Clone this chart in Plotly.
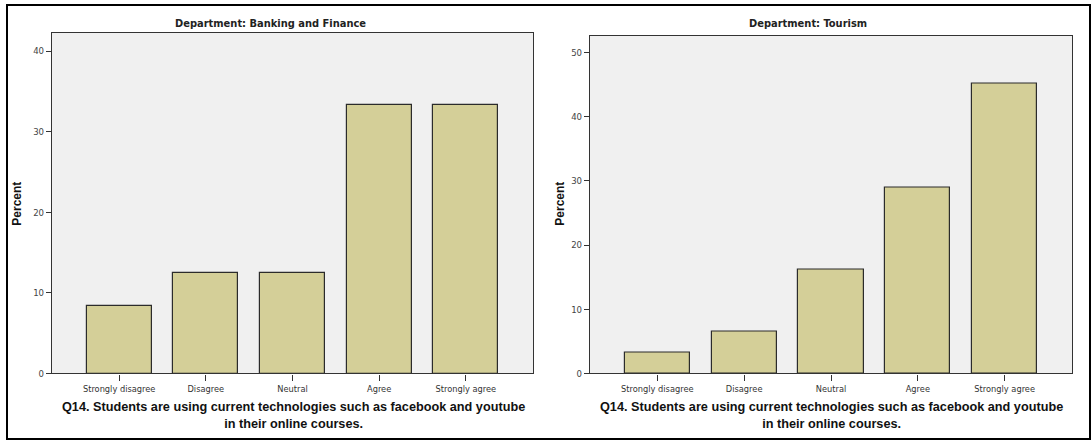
import plotly.graph_objects as go

W, H = 1092, 446

categories = ["Strongly disagree", "Disagree", "Neutral", "Agree", "Strongly agree"]
banking_values = [8.33, 12.5, 12.5, 33.33, 33.33]
tourism_values = [3.23, 6.45, 16.13, 29.03, 45.16]
banking_ticks = [0, 10, 20, 30, 40]
tourism_ticks = [0, 10, 20, 30, 40, 50]
panel_titles = ["Department: Banking and Finance", "Department: Tourism"]
x_title = "Q14. Students are using current technologies such as facebook and youtube<br>in their online courses."
y_title = "Percent"

BAR_FILL = "#d4cf98"
BAR_LINE = "#2b2b2b"
PLOT_BG = "#f0f0f0"
NARROW = "Liberation Sans Narrow, Arial Narrow, DejaVu Sans Condensed, sans-serif"
SANS = "Liberation Sans, Arial, sans-serif"


def px(x):
    return x / W


def py(y):
    return (H - y) / H


fig = go.Figure()
fig.add_trace(go.Bar(x=categories, y=banking_values, xaxis="x", yaxis="y",
                     marker=dict(color=BAR_FILL, line=dict(color=BAR_LINE, width=1.2)),
                     width=0.75, showlegend=False, hoverinfo="x+y"))
fig.add_trace(go.Bar(x=categories, y=tourism_values, xaxis="x2", yaxis="y2",
                     marker=dict(color=BAR_FILL, line=dict(color=BAR_LINE, width=1.2)),
                     width=0.75, showlegend=False, hoverinfo="x+y"))

common_x = dict(type="category", range=[-0.775, 4.775], showgrid=False, zeroline=False,
                showline=True, linecolor="#333", linewidth=1.2, mirror=True,
                ticks="outside", ticklen=6, tickcolor="#333", tickwidth=1,
                tickfont=dict(family=NARROW, size=9.2, color="#333"), fixedrange=True)
common_y = dict(showgrid=False, zeroline=False, showline=True, linecolor="#333",
                linewidth=1.2, mirror=True, ticks="outside", ticklen=5,
                tickcolor="#333", tickwidth=1,
                tickfont=dict(family=NARROW, size=9.5, color="#444"), fixedrange=True)

fig.update_layout(
    width=W, height=H,
    margin=dict(l=0, r=0, t=0, b=0),
    paper_bgcolor="white",
    plot_bgcolor=PLOT_BG,
    bargap=0,
    xaxis=dict(domain=[px(52), px(533)], anchor="y", **common_x),
    yaxis=dict(domain=[py(377.7), py(33.3)], anchor="x", range=[0, 42.26],
               tickvals=banking_ticks, **common_y),
    xaxis2=dict(domain=[px(590), px(1072)], anchor="y2", **common_x),
    yaxis2=dict(domain=[py(377.7), py(36)], anchor="x2", range=[0, 52.65],
                tickvals=tourism_ticks, **common_y),
)

# outer frame
fig.add_shape(type="rect", xref="paper", yref="paper",
              x0=px(7), x1=px(1090), y0=py(444), y1=py(5),
              line=dict(color="black", width=2), fillcolor="rgba(0,0,0,0)", layer="above")

annotations = []
for title, cx in zip(panel_titles, [270, 808]):
    annotations.append(dict(text="<b>" + title + "</b>", x=px(cx), y=py(24), xref="paper",
                            yref="paper", showarrow=False, xanchor="center", yanchor="middle",
                            font=dict(family=NARROW, size=11, color="#222")))
for cx in [293, 831]:
    annotations.append(dict(text="<b>" + x_title.replace("<br>", "</b><br><b>") + "</b>",
                            x=px(cx), y=py(420.5), xref="paper", yref="paper",
                            showarrow=False, xanchor="center", yanchor="middle",
                            font=dict(family=SANS, size=12.7, color="#111"),
                            align="center"))
for cx in [17, 560]:
    annotations.append(dict(text="<b>" + y_title + "</b>", x=px(cx), y=py(206), xref="paper",
                            yref="paper", showarrow=False, xanchor="center", yanchor="middle",
                            textangle=-90, font=dict(family=SANS, size=12, color="#111")))
fig.update_layout(annotations=annotations)

fig.write_html("out.html", config={"displayModeBar": False},
               post_script="document.body.style.margin='0px';document.body.style.overflow='hidden';")
